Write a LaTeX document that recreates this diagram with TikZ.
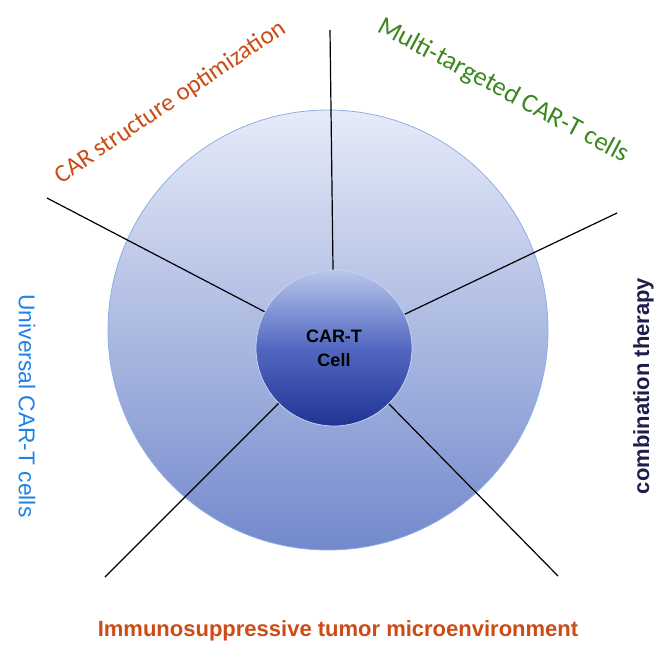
\documentclass[tikz,border=0pt]{standalone}
\usepackage{fontspec}
\usetikzlibrary{positioning}
\newfontfamily\carlfont{Carlito}
\newfontfamily\arialfont{Liberation Sans}
\definecolor{carorange}{RGB}{205,75,20}
\definecolor{targreen}{RGB}{60,135,30}
\definecolor{univblue}{RGB}{30,130,230}
\definecolor{combnavy}{RGB}{30,30,75}

\begin{document}
\begin{tikzpicture}[x=1pt,y=-1pt,
		spoke/.style={draw=black,line width=1.2pt},
		label/.style={inner sep=0pt,anchor=base},
		ring/.style={circle,draw={rgb,255:red,140;green,175;blue,225},line width=0.8pt,minimum size=440pt,
			top color={rgb,255:red,230;green,235;blue,248},bottom color={rgb,255:red,115;green,137;blue,204}},
		core/.style={circle,draw={rgb,255:red,200;green,210;blue,240},line width=0.8pt,minimum size=156pt,
			top color={rgb,255:red,185;green,198;blue,236},bottom color={rgb,255:red,32;green,52;blue,148},
			middle color={rgb,255:red,82;green,104;blue,192},align=center,font=\arialfont\bfseries\fontsize{18}{24}\selectfont}]
		\useasboundingbox (0,0) rectangle (661,650);
		\node[ring]  (dish)    at (328,330)       {};
		
		\coordinate (top)   at (330,30);
		\coordinate (upl)   at (47,198);
		\coordinate (upr)   at (617,213);
		\coordinate (lowl)  at (105,577);
		\coordinate (lowr)  at (558,576);
		
		\node[core]  (cell)    at (334,348)       {CAR-T\\Cell};
		
		\path[spoke]
		(cell) edge (top)
		(cell) edge (upl)
		(cell) edge (upr)
		(cell) edge (lowl)
		(cell) edge (lowr);
		
		\node[label,rotate=34,text=carorange,font=\carlfont\fontsize{25}{30}\selectfont]  (struct)  at (174,108) {CAR structure optimization};
		\node[label,rotate=-28,text=targreen,font=\carlfont\fontsize{26.5}{30}\selectfont] (multi)   at (500,97)  {Multi-targeted CAR-T cells};
		\node[label,rotate=-90,text=univblue,font=\arialfont\fontsize{22.8}{26}\selectfont]  (univ)    at (19,406)  {Universal CAR-T cells};
		\node[label,rotate=90,text=combnavy,font=\arialfont\bfseries\fontsize{22}{26}\selectfont] (combo) at (649,386) {combination therapy};
		\node[label,text=carorange,font=\arialfont\bfseries\fontsize{22}{26}\selectfont]  (immuno)  at (338,636) {Immunosuppressive tumor microenvironment};
		\end{tikzpicture}
\end{document}
